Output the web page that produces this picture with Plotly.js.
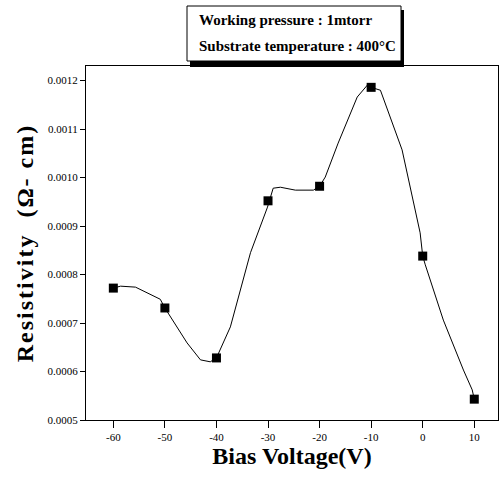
<!DOCTYPE html>
<html>
<head>
<meta charset="utf-8">
<script src="https://cdn.plot.ly/plotly-3.0.1.min.js"></script>
<style>
html,body{margin:0;padding:0;background:#fff}
#chart{width:503px;height:477px}
#chart .ytitle{letter-spacing:2px}
</style>
</head>
<body>
<div id="chart"></div>
<script>
// Measured data points
var biasVoltage = [-60, -50, -40, -30, -20, -10, 0, 10];
var resistivity = [0.000772, 0.000731, 0.000628, 0.000952, 0.000982, 0.001186, 0.000838, 0.000543];

// Hand-drawn connecting curve
var curveX = [-60, -58.6, -55.7, -50.9, -50, -45.7, -43.1, -41.2, -40, -38.9, -37.3, -33.4, -30.1, -29.0, -27.6, -24.7, -21.2, -20, -18.9, -16.4, -12.7, -10.7, -10, -8.2, -4.0, -0.5, 0, 0.5, 4.0, 7.9, 9.6, 10];
var curveY = [0.000772, 0.000776, 0.000774, 0.000749, 0.000731, 0.000659, 0.000624, 0.00062, 0.000628, 0.000653, 0.000692, 0.000845, 0.000939, 0.000978, 0.00098, 0.000974, 0.000974, 0.000982, 0.001001, 0.001071, 0.001166, 0.001191, 0.001186, 0.00118, 0.001057, 0.000886, 0.000838, 0.00082, 0.000706, 0.000603, 0.000562, 0.000543];

var xTicks = [-60, -50, -40, -30, -20, -10, 0, 10];
var yTicks = [0.0005, 0.0006, 0.0007, 0.0008, 0.0009, 0.0010, 0.0011, 0.0012];
var noteLines = ["Working pressure : 1mtorr", "Substrate temperature : 400°C"];

var W = 503, H = 477, L = 86, R = 5, T = 66, B = 57;
var pw = W - L - R, ph = H - T - B;
function px(x) { return (x - L) / pw; }
function py(y) { return (H - B - y) / ph; }

var serif = "Liberation Serif, Times New Roman, serif";

var traces = [
  {x: curveX, y: curveY, type: "scatter", mode: "lines",
   line: {color: "#000", width: 1}, hoverinfo: "skip", showlegend: false},
  {x: biasVoltage, y: resistivity, type: "scatter", mode: "markers",
   marker: {symbol: "square", size: 9, color: "#000"}, showlegend: false}
];

var layout = {
  width: W, height: H,
  margin: {l: L, r: R, t: T, b: B, pad: 0},
  paper_bgcolor: "#fff", plot_bgcolor: "#fff",
  font: {family: serif, color: "#000"},
  xaxis: {
    range: [-65.3, 14.6], tickvals: xTicks, ticktext: xTicks.map(String),
    ticks: "outside", ticklen: 7, tickcolor: "#000", tickwidth: 1,
    showline: true, linecolor: "#000", linewidth: 1, mirror: true,
    showgrid: false, zeroline: false,
    tickfont: {family: serif, size: 11, color: "#000"},
    title: {text: "<b>Bias Voltage(V)</b>", font: {family: serif, size: 24, color: "#000"}, standoff: 4}
  },
  yaxis: {
    range: [0.0005, 0.00123], tickvals: yTicks, ticktext: yTicks.map(function(v){return v.toFixed(4);}),
    ticks: "outside", ticklen: 5, tickcolor: "#000", tickwidth: 1,
    showline: true, linecolor: "#000", linewidth: 1, mirror: true,
    showgrid: false, zeroline: false,
    tickfont: {family: serif, size: 11, color: "#000"},
    title: {text: "<b>Resistivity  (Ω- cm)</b>", font: {family: serif, size: 24, color: "#000"}, standoff: 7}
  },
  shapes: [
    {type: "rect", xref: "paper", yref: "paper", x0: px(190), x1: px(404), y0: py(67), y1: py(10),
     fillcolor: "#000", line: {width: 0}, layer: "above"},
    {type: "rect", xref: "paper", yref: "paper", x0: px(187), x1: px(401), y0: py(61), y1: py(6),
     fillcolor: "#fff", line: {color: "#000", width: 1}, layer: "above"}
  ],
  annotations: [
    {xref: "paper", yref: "paper", x: px(197), y: py(20), xanchor: "left", yanchor: "middle",
     text: "<b>" + noteLines[0] + "</b>", showarrow: false, font: {family: serif, size: 15, color: "#000"}},
    {xref: "paper", yref: "paper", x: px(197), y: py(46), xanchor: "left", yanchor: "middle",
     text: "<b>" + noteLines[1] + "</b>", showarrow: false, font: {family: serif, size: 15, color: "#000"}}
  ]
};

Plotly.newPlot("chart", traces, layout, {displayModeBar: false, staticPlot: true});
</script>
</body>
</html>
